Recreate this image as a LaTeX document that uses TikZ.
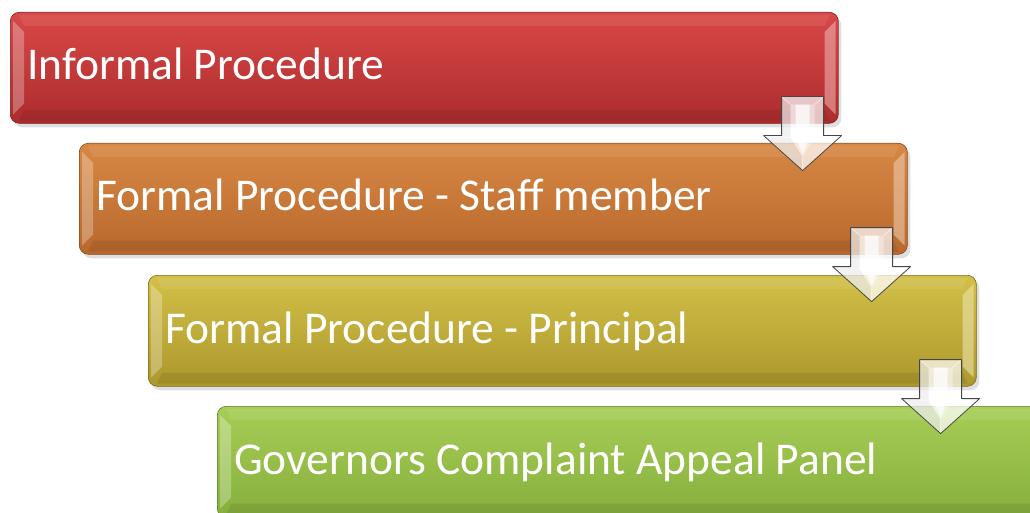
\documentclass[tikz,border=0pt]{standalone}
\usepackage{fontspec}
\setmainfont{Carlito}
\usetikzlibrary{calc,shadows}
\definecolor{redT}{RGB}{218,72,72}
\definecolor{redB}{RGB}{172,44,44}
\definecolor{orgT}{RGB}{216,136,68}
\definecolor{orgB}{RGB}{184,104,44}
\definecolor{oliT}{RGB}{210,192,72}
\definecolor{oliB}{RGB}{172,152,44}
\definecolor{grnT}{RGB}{166,206,86}
\definecolor{grnB}{RGB}{134,174,60}
\tikzset{
  bevelbox/.style 2 args={rounded corners=9pt, minimum width=828pt, minimum height=111pt,
    anchor=north west, inner sep=0pt, top color=#1, bottom color=#2,
    draw=#2!70!black, line width=0.6pt,
    drop shadow={shadow xshift=3pt, shadow yshift=-4pt, opacity=0.25}},
  lbl/.style={anchor=base west, text=white, font=\fontsize{45.5}{52}\selectfont, inner sep=0pt},
  pics/downarr/.style={code={
    \fill[white, opacity=0.72] (-21,-27) -- (21,-27) -- (21,12) -- (39,12) -- (0,47) -- (-39,12) -- (-21,12) -- cycle;
    \fill[black, opacity=0.05] (-21,-27) -- (-12,-19) -- (-12,14) -- (0,33) -- (0,47) -- (-39,12) -- (-21,12) -- cycle;
    \fill[white, opacity=0.7] (-7,-19) -- (7,-19) -- (7,14) -- (0,30) -- (-7,14) -- cycle;
    \fill[white, opacity=0.35] (-12,-19) -- (12,-19) -- (12,14) -- (0,33) -- (-12,14) -- cycle;
    \draw[white, line width=0.5pt, opacity=0.8] (-21,-27) -- (-12,-19) (21,-27) -- (12,-19) (-39,12) -- (-12,14) (39,12) -- (12,14) (0,47) -- (0,33);
    \draw[gray!55!black, line width=0.8pt, line join=round] (-21,-27) -- (21,-27) -- (21,12) -- (39,12) -- (0,47) -- (-39,12) -- (-21,12) -- cycle;
  }}
}
\begin{document}
\begin{tikzpicture}[x=1pt,y=-1pt]
\useasboundingbox (0,0) rectangle (1030,513);
\clip (0,0) rectangle (1030,513);
% boxes
\node[bevelbox={redT}{redB}] (b1) at (10,12) {};
\node[bevelbox={orgT}{orgB}] (b2) at (79,143) {};
\node[bevelbox={oliT}{oliB}] (b3) at (148,275) {};
\node[bevelbox={grnT}{grnB}] (b4) at (217,406) {};
% bevel facets
\foreach \b/\c in {b1/redT, b2/orgT, b3/oliT, b4/grnT}{
  \fill[white, opacity=0.28] ($(\b.north west)+(3,9)$) -- ($(\b.north west)+(14,20)$) -- ($(\b.south west)+(14,-20)$) -- ($(\b.south west)+(3,-9)$) -- cycle;
  \fill[\c!45!white, opacity=0.6] ($(\b.north east)+(-3,9)$) -- ($(\b.north east)+(-14,20)$) -- ($(\b.south east)+(-14,-20)$) -- ($(\b.south east)+(-3,-9)$) -- cycle;
  \fill[white, opacity=0.08] ($(\b.north west)+(9,3)$) -- ($(\b.north east)+(-9,3)$) -- ($(\b.north east)+(-14,14)$) -- ($(\b.north west)+(14,14)$) -- cycle;
  \fill[black, opacity=0.08] ($(\b.south west)+(9,-3)$) -- ($(\b.south east)+(-9,-3)$) -- ($(\b.south east)+(-14,-14)$) -- ($(\b.south west)+(14,-14)$) -- cycle;
}
% arrows
\pic at ($(b1.south east)+(-36,0)$) {downarr};
\pic at ($(b2.south east)+(-36,0)$) {downarr};
\pic at ($(b3.south east)+(-36,0)$) {downarr};
% labels
\node[lbl] (t1) at ($(b1.north west)+(17,68)$) {Informal Procedure};
\node[lbl] (t2) at ($(b2.north west)+(17,68)$) {Formal Procedure - Staff member};
\node[lbl] (t3) at ($(b3.north west)+(17,68)$) {Formal Procedure - Principal};
\node[lbl] (t4) at ($(b4.north west)+(17,68)$) {Governors Complaint Appeal Panel};
\end{tikzpicture}
\end{document}
